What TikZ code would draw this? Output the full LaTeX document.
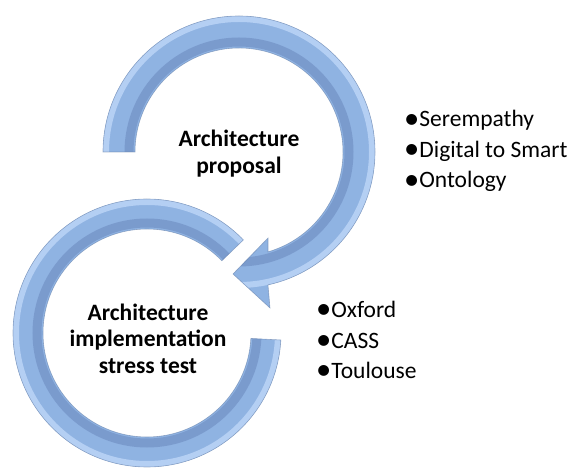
\documentclass[tikz,border=0pt]{standalone}
\usepackage{fontspec}
\setmainfont{Carlito}
\usetikzlibrary{calc}
\definecolor{ringblue}{RGB}{143,179,226}
\definecolor{ringdark}{RGB}{116,147,199}
\definecolor{ringlight}{RGB}{180,207,243}
\definecolor{ringedge}{RGB}{105,130,170}
\newcommand\itemdot{\smash{\raisebox{-0.06em}{\scalebox{1.3}{\textbullet}}}}

\begin{document}
\begin{tikzpicture}[
  x=1pt,
  y=1pt,
  title/.style={align=center, font=\fontsize{23.5}{26.5}\selectfont\bfseries, inner sep=0pt},
  items/.style={anchor=west, align=left, font=\fontsize{23.5}{30.5}\selectfont, inner sep=0pt},
  ringline/.style={draw=ringedge, line width=0.6pt, draw opacity=0.6}
]
\useasboundingbox (0,0) rectangle (570,471);

\coordinate (upper) at (239,319);
\coordinate (lower) at (147,138);

% ring outlines: the upper one ends in the arrow head
\def\upperring{($(upper)+(180:136)$) arc[start angle=180, end angle=-77.7, radius=136]
  -- (270,163) -- (233,197) -- (268,233)
  -- ($(upper)+(-73.8:104)$) arc[start angle=-73.8, end angle=180, radius=104] -- cycle}
\def\lowerring{($(lower)+(44:134)$) arc[start angle=44, end angle=357, radius=134]
  -- ($(lower)+(357:104)$) arc[start angle=357, end angle=44, radius=104] -- cycle}

\begin{scope}
  \clip \upperring;
  \fill[ringblue] (upper) circle[radius=170];
  \draw[ringlight, line width=6] (upper) circle[radius=133];
  \draw[ringdark, line width=9, opacity=0.75] (upper) circle[radius=110];
\end{scope}
\draw[ringline] \upperring;

\begin{scope}
  \clip \lowerring;
  \fill[ringblue] (lower) circle[radius=150];
  \draw[ringlight, line width=6] (lower) circle[radius=131];
  \draw[ringdark, line width=9, opacity=0.75] (lower) circle[radius=110];
\end{scope}
\draw[ringline] \lowerring;

\node[title] (proposal) at (239,317.5) {Architecture\\proposal};
\node[title] (stress) at (148,132.5) {Architecture\\implementation\\stress test};

\node[items] (topics) at (404,320) {\itemdot Serempathy\\\itemdot Digital to Smart\\\itemdot Ontology};
\node[items] (sites) at (316,131) {\itemdot Oxford\\\itemdot CASS\\\itemdot Toulouse};
\end{tikzpicture}
\end{document}
